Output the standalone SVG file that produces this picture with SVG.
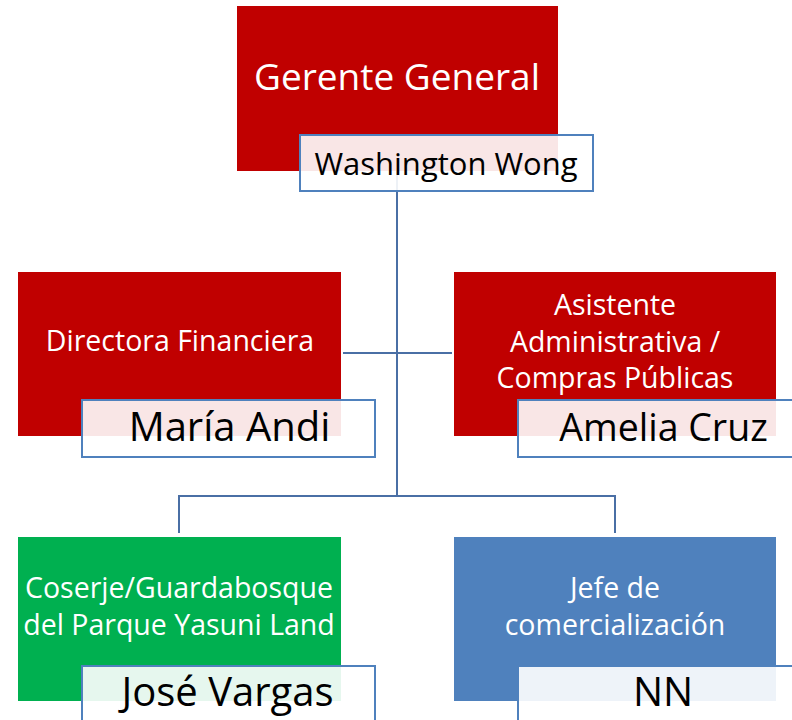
<svg xmlns="http://www.w3.org/2000/svg" width="792" height="720" viewBox="0 0 792 720">
<style>
.conn{fill:none;stroke:#4A6FA5;stroke-width:2}
.red{fill:#C00000}
.green{fill:#00B050}
.blue{fill:#4F81BD}
.name{fill:#FFFFFF;fill-opacity:0.9;stroke:#4F81BD;stroke-width:2}
.t{font-family:"Open Sans","Liberation Sans",sans-serif;fill:#FFFFFF;text-anchor:middle;font-size:28.5px}
.n{font-family:"Open Sans","Liberation Sans",sans-serif;fill:#000000;text-anchor:middle;font-size:40px}
</style>
<rect width="792" height="720" fill="#FFFFFF"/>
<g id="connectors">
<path class="conn" d="M397 171 V496"/>
<path class="conn" d="M343 353 H452"/>
<path class="conn" d="M179 533 V496 H615 V533"/>
</g>
<g id="gerente">
<rect class="red" x="237" y="6" width="321" height="165"/>
<text class="t" x="397" y="90" style="font-size:37px">Gerente General</text>
<rect class="name" x="300" y="135" width="293" height="56"/>
<text class="n" x="446" y="175" style="font-size:31px">Washington Wong</text>
</g>
<g id="directora">
<rect class="red" x="18" y="272" width="323" height="164"/>
<text class="t" x="180" y="351">Directora Financiera</text>
<rect class="name" x="82" y="400" width="293" height="57"/>
<text class="n" x="229.5" y="441">María Andi</text>
</g>
<g id="asistente">
<rect class="red" x="454" y="272" width="322" height="164"/>
<text class="t" x="615" y="315">Asistente</text>
<text class="t" x="615" y="352">Administrativa /</text>
<text class="t" x="615" y="388">Compras Públicas</text>
<rect class="name" x="518" y="400" width="293" height="57"/>
<text class="n" x="663.5" y="441" style="font-size:37.5px">Amelia Cruz</text>
</g>
<g id="coserje">
<rect class="green" x="18" y="537" width="323" height="164"/>
<text class="t" x="179" y="598">Coserje/Guardabosque</text>
<text class="t" x="179" y="635">del Parque Yasuni Land</text>
<rect class="name" x="82" y="666" width="293" height="57"/>
<text class="n" x="227.5" y="706">José Vargas</text>
</g>
<g id="jefe">
<rect class="blue" x="454" y="537" width="322" height="164"/>
<text class="t" x="615" y="598">Jefe de</text>
<text class="t" x="615" y="635">comercialización</text>
<rect class="name" x="518" y="666" width="293" height="57"/>
<text class="n" x="663" y="706">NN</text>
</g>
</svg>
